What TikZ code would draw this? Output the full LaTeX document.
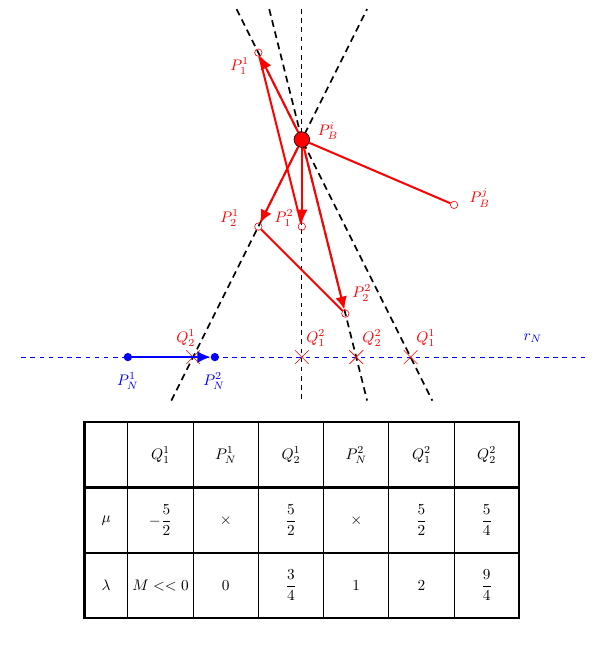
\documentclass[tikz,border=0pt]{standalone}
\usepackage{amsmath,amssymb}
\usepackage{tikz}
\usetikzlibrary{positioning,calc,shapes.misc,arrows.meta}

\begin{document}
\begin{tikzpicture}[>=stealth, every node/.style={font=\normalsize},
  ptopen/.style={draw=red, circle, inner sep=0pt, minimum size=0.17cm},
  qcross/.style={draw=red, cross out, inner sep=0pt, minimum size=0.3cm},
  ndot/.style={fill=blue, circle, inner sep=0pt, minimum size=0.19cm},
  guide/.style={black, line width=1.1pt, dash pattern=on 4.5pt off 3pt},
  rarrow/.style={red, line width=1.3pt, -{Latex[length=3mm,width=2.7mm]}},
  rline/.style={red, line width=1.3pt},
  tabbold/.style={line width=1.5pt},
  tabthin/.style={line width=0.6pt},
  cellbox/.style={inner sep=0pt}]
  \useasboundingbox (-6.94,-7.01) rectangle (6.71,8.21);

  % Guide lines
  \coordinate (gAtop) at (1.5,8);   \coordinate (gAbot) at (-3,-1);
  \coordinate (gBtop) at (-1.5,8);  \coordinate (gBbot) at (3,-1);
  \coordinate (gCtop) at (-0.75,8); \coordinate (gCbot) at (1.5,-1);
  \coordinate (gVtop) at (0,8);     \coordinate (gVbot) at (0,-1);
  \coordinate (rLeft) at (-6.45,0); \coordinate (rRight) at (6.5,0);
  \draw [guide] (gAbot) -- (gAtop);
  \draw [guide] (gBtop) -- (gBbot);
  \draw [guide] (gCtop) -- (gCbot);
  \draw [black, semithick, dashed] (gVtop) -- (gVbot);
  \draw [blue, semithick, dashed] (rLeft) -- (rRight);

  % Nodes
  \node [ptopen] (P11) at (-1,7) {};
  \node [ptopen] (P21) at (-1,3) {};
  \node [ptopen] (P12) at (0,3) {};
  \node [ptopen] (P22) at (1,1) {};
  \node [ptopen] (PBj) at (3.5,3.5) {};
  \node [qcross] (Q12) at (-2.5,0) {};
  \node [qcross] (Q21) at (0,0) {};
  \node [qcross] (Q22) at (1.25,0) {};
  \node [qcross] (Q11) at (2.5,0) {};
  \node [ndot] (PN1) at (-4,0) {};
  \node [ndot] (PN2) at (-2,0) {};

  % Paths
  \draw [rline] (P11) -- (P12);
  \draw [rline] (P21) -- (P22);
  \draw [blue, line width=1pt, -{Latex[length=3mm,width=2.7mm]}] (PN1) -- (PN2);
  \node [draw=black, fill=red, circle, inner sep=0pt, minimum size=0.36cm] (PBi) at (0,5) {};
  \draw [rarrow] (PBi) -- (P11);
  \draw [rarrow] (PBi) -- (P21);
  \draw [rarrow] (PBi) -- (P12);
  \draw [rarrow] (PBi) -- (P22);
  \draw [rline] (PBi) -- (PBj);

  % Labels
  \node [red] (lP11) at (-1.43,6.69) {$P_1^1$};
  \node [red] (lPBi) at (0.6,5.2) {$P_B^i$};
  \node [red] (lPBj) at (4.09,3.66) {$P_B^j$};
  \node [red] (lP21) at (-1.66,3.2) {$P_2^1$};
  \node [red] (lP12) at (-0.41,3.2) {$P_1^2$};
  \node [red] (lP22) at (1.38,1.47) {$P_2^2$};
  \node [red] (lQ12) at (-2.67,0.44) {$Q_2^1$};
  \node [red] (lQ21) at (0.32,0.44) {$Q_1^2$};
  \node [red] (lQ22) at (1.61,0.44) {$Q_2^2$};
  \node [red] (lQ11) at (2.85,0.44) {$Q_1^1$};
  \node [blue] (lrN) at (5.31,0.44) {$r_N$};
  \node [blue] (lPN1) at (-4,-0.55) {$P_N^1$};
  \node [blue] (lPN2) at (-2.02,-0.55) {$P_N^2$};

  % Table
  \draw [tabbold] (-5,-1.5) rectangle (5,-6);
  \draw [tabbold] (-5,-3) -- (5,-3);
  \draw [tabbold] (-5,-4.5) -- (5,-4.5);
  \draw [tabthin] (-4,-1.5) -- (-4,-6);
  \draw [tabthin] (-2.5,-1.5) -- (-2.5,-6);
  \draw [line width=1pt] (-1,-1.5) -- (-1,-6);
  \draw [line width=1pt] (0.5,-1.5) -- (0.5,-6);
  \draw [tabthin] (2,-1.5) -- (2,-6);
  \draw [tabthin] (3.5,-1.5) -- (3.5,-6);

  \node [cellbox] (hQ11) at (-3.25,-2.25) {$Q_1^1$};
  \node [cellbox] (hPN1) at (-1.75,-2.25) {$P_N^1$};
  \node [cellbox] (hQ12) at (-0.25,-2.25) {$Q_2^1$};
  \node [cellbox] (hPN2) at (1.25,-2.25) {$P_N^2$};
  \node [cellbox] (hQ21) at (2.75,-2.25) {$Q_1^2$};
  \node [cellbox] (hQ22) at (4.25,-2.25) {$Q_2^2$};

  \node [cellbox] (mu) at (-4.5,-3.75) {$\mu$};
  \node [cellbox] (muQ11) at (-3.25,-3.75) {$-\dfrac{5}{2}$};
  \node [cellbox] (muPN1) at (-1.75,-3.75) {$\times$};
  \node [cellbox] (muQ12) at (-0.25,-3.75) {$\dfrac{5}{2}$};
  \node [cellbox] (muPN2) at (1.25,-3.75) {$\times$};
  \node [cellbox] (muQ21) at (2.75,-3.75) {$\dfrac{5}{2}$};
  \node [cellbox] (muQ22) at (4.25,-3.75) {$\dfrac{5}{4}$};

  \node [cellbox] (lam) at (-4.5,-5.25) {$\lambda$};
  \node [cellbox] (lamQ11) at (-3.25,-5.25) {$M<<0$};
  \node [cellbox] (lamPN1) at (-1.75,-5.25) {$0$};
  \node [cellbox] (lamQ12) at (-0.25,-5.25) {$\dfrac{3}{4}$};
  \node [cellbox] (lamPN2) at (1.25,-5.25) {$1$};
  \node [cellbox] (lamQ21) at (2.75,-5.25) {$2$};
  \node [cellbox] (lamQ22) at (4.25,-5.25) {$\dfrac{9}{4}$};
\end{tikzpicture}
\end{document}
